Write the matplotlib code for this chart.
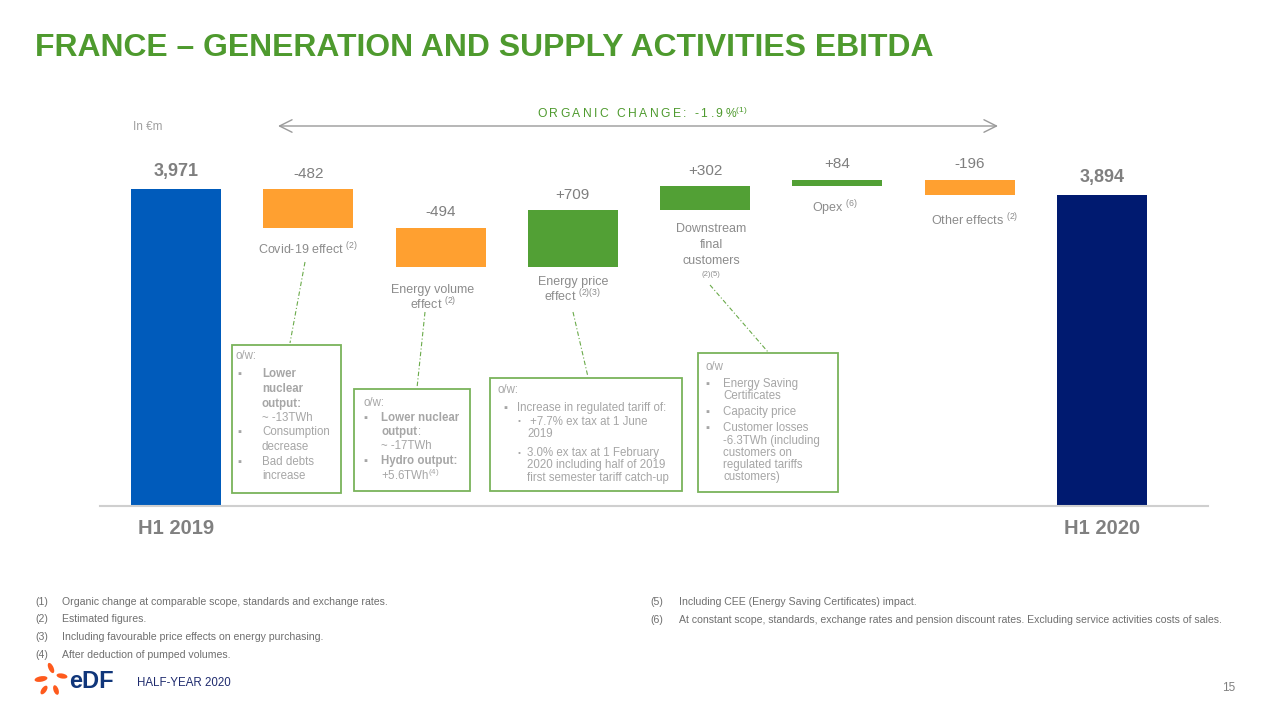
import matplotlib
matplotlib.use('Agg')
import matplotlib.pyplot as plt
from matplotlib.patches import Rectangle, Ellipse

plt.rcParams['font.family'] = ['Liberation Sans', 'DejaVu Sans']
plt.rcParams['mathtext.fontset'] = 'custom'
plt.rcParams['mathtext.rm'] = 'Liberation Sans'
plt.rcParams['mathtext.bf'] = 'Liberation Sans:bold'

# data
steps = ['H1 2019', 'Covid-19 effect', 'Energy volume effect', 'Energy price effect',
         'Downstream final customers', 'Opex', 'Other effects', 'H1 2020']
values = [3971, -482, -494, 709, 302, 84, -196, 3894]
value_labels = ['3,971', '-482', '-494', '+709', '+302', '+84', '-196', '3,894']
bar_colors = ['#005BBB', '#FFA030', '#FFA030', '#52A035', '#52A035', '#52A035', '#FFA030', '#001A70']

W, H = 1280, 720
fig = plt.figure(figsize=(12.8, 7.2), dpi=100)
fig.patch.set_facecolor('white')

# main waterfall axes
ax = fig.add_axes([109.85 / W, 214 / H, (1168.15 - 109.85) / W, 399 / H])
ax.set_xlim(-0.5, 7.5)
ax.set_ylim(0, 5000)
ax.axis('off')

bottoms, heights = [], []
running = 0
for i, v in enumerate(values):
    if i == 0 or i == len(values) - 1:
        bottoms.append(0)
        heights.append(v)
        running = v
    else:
        bottoms.append(running)
        heights.append(v)
        running += v
ax.bar(range(len(values)), heights, bottom=bottoms, width=0.68, color=bar_colors)

# value labels
for i, (b, h, lab) in enumerate(zip(bottoms, heights, value_labels)):
    top = max(b, b + h)
    total = i in (0, len(values) - 1)
    ax.annotate(lab, (i, top), xytext=(0, 13 if total else 11), textcoords='offset points',
                ha='center', va='center', color='#7f7f7f',
                fontsize=13 if total else 11, fontweight='bold' if total else 'normal')

# x labels for totals
for i in (0, len(values) - 1):
    ax.annotate(steps[i], (i, 0), xytext=(0, -16), textcoords='offset points',
                ha='center', va='center', color='#808080', fontsize=14.5, fontweight='bold')

# overlay axes in pixel coords for the slide decorations
ov = fig.add_axes([0, 0, 1, 1], zorder=5)
ov.set_xlim(0, W)
ov.set_ylim(H, 0)
ov.axis('off')
ov.patch.set_alpha(0)

title = ov.text(35, 48, 'FRANCE \u2013 GENERATION AND SUPPLY ACTIVITIES EBITDA',
                color='#4E9A2E', fontsize=24, fontweight='bold', va='center', ha='left')
fig.canvas.draw()
bb = title.get_window_extent()
title.set_fontsize(24 * 900 / bb.width)

ov.text(133, 127, 'In \u20acm', color='#a0a0a0', fontsize=8.5, va='center')
org = '\u2009'.join('ORGANIC CHANGE: -1.9%') + r'$^{\rm (1)}$'
ov.text(642, 113, org, color='#4E9A2E', fontsize=8.7, ha='center', va='center')
ov.annotate('', xy=(998, 126), xytext=(278, 126),
            arrowprops=dict(arrowstyle='<->,head_length=0.9,head_width=0.45',
                            color='#9a9a9a', lw=1, shrinkA=0, shrinkB=0))

# baseline
ov.plot([100, 1208], [506, 506], color='#cfcfcf', lw=1.5)

# category labels
cat_color = '#8c8c8c'
ov.text(308, 249, r'Covid-19 effect $^{\rm (2)}$', color=cat_color, fontsize=9, ha='center', va='center')
ov.text(433, 290, 'Energy volume', color=cat_color, fontsize=9, ha='center', va='center')
ov.text(433, 304, r'effect $^{\rm (2)}$', color=cat_color, fontsize=9, ha='center', va='center')
ov.text(573, 282, 'Energy price', color=cat_color, fontsize=9, ha='center', va='center')
ov.text(573, 296, r'effect $^{\rm (2)(3)}$', color=cat_color, fontsize=9, ha='center', va='center')
ov.text(711, 229, 'Downstream', color=cat_color, fontsize=9, ha='center', va='center')
ov.text(711, 245, 'final', color=cat_color, fontsize=9, ha='center', va='center')
ov.text(711, 261, 'customers', color=cat_color, fontsize=9, ha='center', va='center')
ov.text(711, 274, '(2)(5)', color=cat_color, fontsize=5.5, ha='center', va='center')
ov.text(835, 208, r'Opex $^{\rm (6)}$', color=cat_color, fontsize=9, ha='center', va='center')
ov.text(975, 220, r'Other effects $^{\rm (2)}$', color=cat_color, fontsize=9, ha='center', va='center')

# dashed connectors
link = dict(color='#6aaa4a', lw=0.8, linestyle=(0, (4, 2, 1, 2)))
ov.plot([305, 290], [262, 343], **link)
ov.plot([425, 417], [312, 388], **link)
ov.plot([573, 588], [312, 377], **link)
ov.plot([710, 768], [285, 352], **link)

# detail boxes
box_edge = '#79B35A'
for x0, y0, x1, y1 in [(232, 345, 341, 493), (354, 389, 470, 491),
                       (490, 378, 682, 491), (698, 353, 838, 492)]:
    ov.add_patch(Rectangle((x0, y0), x1 - x0, y1 - y0, fill=False, ec=box_edge, lw=1.3))

box_color = '#a6a6a6'
bsz = 8.3
def line(x, y, s, bold=False, size=bsz):
    ov.text(x, y, s, color=box_color, fontsize=size, va='center', ha='left',
            fontweight='bold' if bold else 'normal')

def bullet(x, y):
    ov.text(x, y, '\u25aa', color=box_color, fontsize=8, va='center', ha='left')

# box 1
line(235, 356, 'o/w:')
bullet(237, 374); line(262, 374, 'Lower', True)
line(262, 389, 'nuclear', True)
line(262, 404, 'output:', True)
line(262, 418, '~ -13TWh')
bullet(237, 432); line(262, 432, 'Consumption')
line(262, 447, 'decrease')
bullet(237, 462); line(262, 462, 'Bad debts')
line(262, 476, 'increase')

# box 2
line(363, 403, 'o/w:')
bullet(363, 418); line(381, 418, 'Lower nuclear', True)
line(381, 432, 'output', True); line(418, 432, ':')
line(381, 446, '~ -17TWh')
bullet(363, 461); line(381, 461, 'Hydro output:', True)
line(381, 475, r'+5.6TWh$^{\rm (4)}$')

# box 3
line(498, 390, 'o/w:')
bullet(503, 408); line(517, 408, 'Increase in regulated tariff of:')
line(518, 422, '\u2022', size=6); line(530, 422, '+7.7% ex tax at 1 June')
line(527, 434, '2019')
line(518, 453, '\u2022', size=6); line(527, 453, '3.0% ex tax at 1 February')
line(527, 465, '2020 including half of 2019')
line(527, 478, 'first semester tariff catch-up')

# box 4
line(706, 367, 'o/w')
bullet(705, 384); line(723, 384, 'Energy Saving')
line(723, 396, 'Certificates')
bullet(705, 412); line(723, 412, 'Capacity price')
bullet(705, 428); line(723, 428, 'Customer losses')
line(723, 441, '-6.3TWh (including')
line(723, 453, 'customers on')
line(723, 465, 'regulated tariffs')
line(723, 477, 'customers)')

# footnotes
fn_color = '#6f6f6f'
notes_left = [('(1)', 'Organic change at comparable scope, standards and exchange rates.'),
              ('(2)', 'Estimated figures.'),
              ('(3)', 'Including favourable price effects on energy purchasing.'),
              ('(4)', 'After deduction of pumped volumes.')]
notes_right = [('(5)', 'Including CEE (Energy Saving Certificates) impact.'),
               ('(6)', 'At constant scope, standards, exchange rates and pension discount rates. '
                       'Excluding service activities costs of sales.')]
for k, (n, t) in enumerate(notes_left):
    ov.text(35, 602 + 17.5 * k, n, color=fn_color, fontsize=7.6, va='center')
    ov.text(62, 602 + 17.5 * k, t, color=fn_color, fontsize=7.6, va='center')
for k, (n, t) in enumerate(notes_right):
    ov.text(650, 602 + 18 * k, n, color=fn_color, fontsize=7.6, va='center')
    ov.text(679, 602 + 18 * k, t, color=fn_color, fontsize=7.6, va='center')

# logo
petal = '#FE5A1D'
for cx, cy, w, h, ang in [(51, 668, 5, 11, -25), (41, 679, 13, 5.5, -10), (44, 690, 5, 10, 35),
                          (56, 690, 5, 10, -20), (62, 676, 11, 5, 10)]:
    ov.add_patch(Ellipse((cx, cy), w, h, angle=ang, color=petal, lw=0))
ov.text(69, 682, 'eDF', color='#10367A', fontsize=17, fontweight='bold', va='center', ha='left')
ov.text(137, 683, 'HALF-YEAR 2020', color='#1F2B6E', fontsize=8.3, va='center')
ov.text(1229, 688, '15', color='#7f7f7f', fontsize=8.5, va='center', ha='center')

fig.savefig('out.png', dpi=100)
